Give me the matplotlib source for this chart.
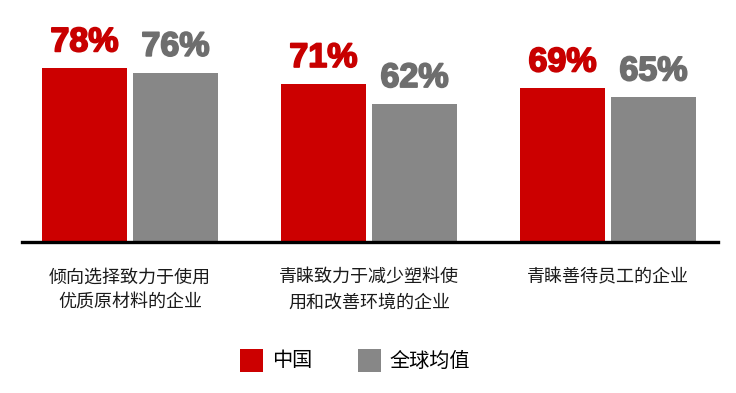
import matplotlib
matplotlib.use("Agg")
import matplotlib.pyplot as plt
from matplotlib.patches import Rectangle
import matplotlib.patheffects as pe
import numpy as np

categories = ["倾向选择致力于使用\n优质原材料的企业", "青睐致力于减少塑料使\n用和改善环境的企业", "青睐善待员工的企业"]
series_names = ["中国", "全球均值"]
china = [78, 71, 69]
world = [76, 62, 65]

RED = "#cc0000"
GRAY = "#878787"
RED_TXT = "#c80000"
GRAY_TXT = "#6e6e6e"

W, H = 736, 393
fig = plt.figure(figsize=(W / 100, H / 100), dpi=100)
fig.patch.set_facecolor("white")

cjk = ["Noto Sans CJK SC", "DejaVu Sans"]

left_px, right_px = 22, 718
base_px, top_px = 242, 20
ax = fig.add_axes([left_px / W, (H - base_px) / H, (right_px - left_px) / W, (base_px - top_px) / H])
group_px = 239.0
x0 = -(130 - left_px) / group_px
ax.set_xlim(x0, x0 + (right_px - left_px) / group_px)
ax.set_ylim(0, (base_px - top_px) / 2.23)

x = np.arange(len(categories))
bw = 85 / group_px
off = 45.5 / group_px
b1 = ax.bar(x - off, china, width=bw, color=RED, zorder=2)
b2 = ax.bar(x + off, world, width=bw, color=GRAY, zorder=2)

for bars, vals, col in [(b1, china, RED_TXT), (b2, world, GRAY_TXT)]:
    for r, v in zip(bars, vals):
        ax.annotate(f"{v}%", (r.get_x() + r.get_width() / 2, v), xytext=(0, 7),
                    textcoords="offset points", ha="center", va="bottom",
                    fontsize=24.5, fontweight="bold", family=["Liberation Sans", "DejaVu Sans"],
                    color=col, clip_on=False,
                    path_effects=[pe.withStroke(linewidth=1.3, foreground=col)])

for s in ["top", "left", "right"]:
    ax.spines[s].set_visible(False)
ax.spines["bottom"].set_linewidth(2.4)
ax.spines["bottom"].set_color("black")
ax.set_yticks([])
ax.set_xticks(x)
ax.set_xticklabels(categories, family=cjk, fontsize=13, color="#1a1a1a", linespacing=1.5, va="top")
ax.tick_params(axis="x", length=0, pad=19)

def legend_item(xp, label, color):
    fig.add_artist(Rectangle((xp / W, (H - 372) / H), 23 / W, 23 / H, transform=fig.transFigure,
                             facecolor=color, edgecolor="none"))
    fig.text((xp + 32) / W, (H - 361) / H, label, family=cjk, fontsize=14.5, va="center", ha="left",
             color="black", fontweight="medium")

legend_item(240, series_names[0], RED)
legend_item(358, series_names[1], GRAY)

fig.savefig("out.png", dpi=100, facecolor="white")
